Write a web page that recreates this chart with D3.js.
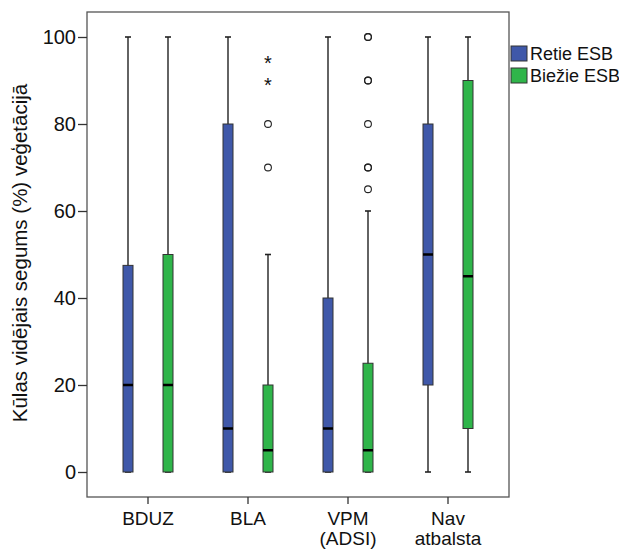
<!DOCTYPE html>
<html><head><meta charset="utf-8">
<script src="https://cdn.jsdelivr.net/npm/d3@7"></script>
<style>body{margin:0;background:#fff;}svg{display:block;font-family:Arial,"Liberation Sans",sans-serif;}</style>
</head><body><svg id="c" width="619" height="549"></svg>
<script>
const categories = ["BDUZ", "BLA", "VPM\n(ADSI)", "Nav\natbalsta"];
const seriesNames = ["Retie ESB", "Biežie ESB"];
const seriesColors = ["#3f58a9", "#2fb54a"];
// [min whisker, q1, median, q3, max whisker]
const retieStats = [[0,0,20,47.5,100],[0,0,10,80,100],[0,0,10,40,100],[0,20,50,80,100]];
const biezieStats = [[0,0,20,50,100],[0,0,5,20,50],[0,0,5,25,60],[0,10,45,90,100]];
const retieOutliers = [[],[],[],[]];
const biezieOutliers = [[],[70,80],[65,70,70,80,90,90,100,100],[]];
const biezieExtremes = [[],[90,95],[],[]];
const yTicks = [0,20,40,60,80,100];
const yTitle = "Kūlas vidējais segums (%) veģetācijā";

const svg = d3.select("#c");
const frame = {l:87, r:509, t:12, b:497};
const y = d3.scaleLinear().domain([0,100]).range([472,37]);
const x = d3.scaleBand().domain(categories).range([98,498]).padding(0);
const sub = d3.scaleBand().domain([0,1]).range([-20,20]).paddingInner(1).paddingOuter(0);
const bw = 10;

svg.append("rect").attr("x",frame.l).attr("y",frame.t).attr("width",frame.r-frame.l).attr("height",frame.b-frame.t)
  .attr("fill","none").attr("stroke","#555").attr("stroke-width",1.3);

const yAxis = svg.append("g").attr("transform",`translate(${frame.l},0)`)
  .call(d3.axisLeft(y).tickValues(yTicks).tickSize(9).tickPadding(2));
yAxis.select(".domain").remove();
yAxis.selectAll("line").attr("stroke","#333").attr("stroke-width",1.3);
yAxis.selectAll("text").attr("font-size",20).attr("fill","#111").attr("font-family","Arial,'Liberation Sans',sans-serif");

const xAxis = svg.append("g").attr("transform",`translate(0,${frame.b})`)
  .call(d3.axisBottom(x).tickSize(7).tickFormat(""));
xAxis.select(".domain").remove();
xAxis.selectAll("line").attr("stroke","#333").attr("stroke-width",1.3);
xAxis.selectAll(".tick").each(function(d){
  const lines = d.split("\n");
  const t = d3.select(this).append("text").attr("text-anchor","middle").attr("fill","#111")
    .attr("font-size",19).attr("font-family","Arial,'Liberation Sans',sans-serif");
  lines.forEach((s,i)=>t.append("tspan").attr("x",0).attr("y",28+i*20).text(s));
});

svg.append("text").attr("transform",`translate(27,${253}) rotate(-90)`)
  .attr("text-anchor","middle").attr("font-size",20.5).attr("fill","#111").text(yTitle);

const all = [retieStats, biezieStats];
const outs = [retieOutliers, biezieOutliers];
const ext = [[[],[],[],[]], biezieExtremes];
categories.forEach((c,ci)=>{
  [0,1].forEach(si=>{
    const s = all[si][ci];
    const cx = x(c) + x.bandwidth()/2 + sub(si);
    const g = svg.append("g");
    g.append("line").attr("x1",cx).attr("x2",cx).attr("y1",y(s[0])).attr("y2",y(s[4])).attr("stroke","#222").attr("stroke-width",1.4);
    [s[0],s[4]].forEach(v=>g.append("line").attr("x1",cx-3).attr("x2",cx+3).attr("y1",y(v)).attr("y2",y(v)).attr("stroke","#222").attr("stroke-width",1.6));
    g.append("rect").attr("x",cx-bw/2).attr("y",y(s[3])).attr("width",bw).attr("height",y(s[1])-y(s[3]))
      .attr("fill",seriesColors[si]).attr("stroke","#333").attr("stroke-width",1);
    g.append("line").attr("x1",cx-bw/2).attr("x2",cx+bw/2).attr("y1",y(s[2])).attr("y2",y(s[2])).attr("stroke","#000").attr("stroke-width",2.5);
    outs[si][ci].forEach(v=>g.append("circle").attr("cx",cx).attr("cy",y(v)).attr("r",3.4).attr("fill","none").attr("stroke","#222").attr("stroke-width",1.1));
    ext[si][ci].forEach(v=>g.append("text").attr("x",cx).attr("y",y(v)+11).attr("text-anchor","middle").attr("font-size",20).attr("fill","#111").text("*"));
  });
});

const leg = svg.append("g").attr("transform","translate(511,46)");
seriesNames.forEach((n,i)=>{
  leg.append("rect").attr("x",0).attr("y",i*22).attr("width",16).attr("height",15).attr("fill",seriesColors[i]).attr("stroke","#333").attr("stroke-width",1);
  leg.append("text").attr("x",19).attr("y",i*22+14).attr("font-size",18).attr("fill","#111").text(n);
});
</script></body></html>
